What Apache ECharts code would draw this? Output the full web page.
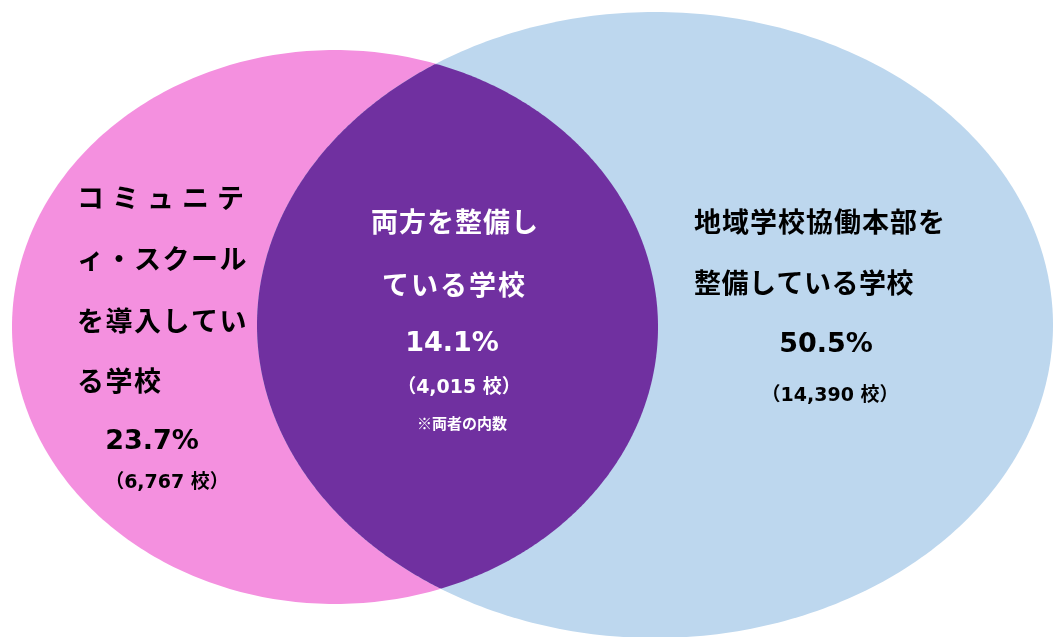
<!DOCTYPE html>
<html>
<head>
<meta charset="utf-8">
<script src="https://cdn.jsdelivr.net/npm/echarts@6/dist/echarts.min.js"></script>
<style>
html,body{margin:0;padding:0;background:#fff;}
#chart{width:1053px;height:637px;}
</style>
</head>
<body>
<div id="chart"></div>
<script>
// ---- data ----
const setNames = ['コミュニティ・スクールを導入している学校', '両方を整備している学校', '地域学校協働本部を整備している学校'];
const nameLines = [
  ['コミュニテ', 'ィ・スクール', 'を導入してい', 'る学校'],
  ['両方を整備し', 'ている学校'],
  ['地域学校協働本部を', '整備している学校']
];
const percents = [23.7, 14.1, 50.5];
const counts = [6767, 4015, 14390];
const countUnit = '校';
const overlapNote = '※両者の内数';

// ---- layout (hidden axes in pixel-like units) ----
const W = 1053, H = 637;
const ellipses = [
  { cx: 335, cy: 327, rx: 323, ry: 277, color: '#F490DF' },
  { cx: 655, cy: 325, rx: 398, ry: 313, color: '#BDD7EE' }
];
const overlapColor = '#7030A0';
const blocks = [
  { x: [77, 77, 77, 77], y: [198, 259, 321, 381], pitch: [35, 28.5, 28.5, 28.5],
    pct: [152, 442], cnt: [167, 483], color: '#000' },
  { x: [371, 382], y: [222, 285], pitch: [28, 29],
    pct: [452, 344], cnt: [459, 388], note: [462, 423], color: '#fff' },
  { x: [694, 694], y: [222, 283], pitch: [28, 27.5],
    pct: [826, 345], cnt: [830, 396], color: '#000' }
];
const jpFont = "bold 27px 'Noto Sans CJK JP', sans-serif";
const pctFont = "bold 27px 'DejaVu Sans', 'Noto Sans CJK JP', sans-serif";
const cntFont = "bold 19px 'DejaVu Sans', 'Noto Sans CJK JP', sans-serif";
const noteFont = "bold 15px 'Noto Sans CJK JP', sans-serif";

function ellipsePoints(e, api) {
  const pts = [];
  for (let k = 0; k < 360; k++) {
    const a = k * Math.PI / 180;
    pts.push(api.coord([e.cx + e.rx * Math.cos(a), e.cy + e.ry * Math.sin(a)]));
  }
  return pts;
}
function rayDist(e, px, py, dx, dy) {
  const a = (dx * dx) / (e.rx * e.rx) + (dy * dy) / (e.ry * e.ry);
  const b = 2 * ((px - e.cx) * dx / (e.rx * e.rx) + (py - e.cy) * dy / (e.ry * e.ry));
  const c = Math.pow((px - e.cx) / e.rx, 2) + Math.pow((py - e.cy) / e.ry, 2) - 1;
  return (-b + Math.sqrt(b * b - 4 * a * c)) / (2 * a);
}
function overlapPoints(api) {
  const A = ellipses[0], B = ellipses[1];
  const px = ((A.cx + A.rx) + (B.cx - B.rx)) / 2;
  const py = (A.cy + B.cy) / 2;
  const pts = [];
  for (let k = 0; k < 720; k++) {
    const a = k * Math.PI / 360;
    const dx = Math.cos(a), dy = Math.sin(a);
    const t = Math.min(rayDist(A, px, py, dx, dy), rayDist(B, px, py, dx, dy));
    pts.push(api.coord([px + t * dx, py + t * dy]));
  }
  return pts;
}

function fmtCount(n) {
  return '（' + n.toLocaleString('en-US') + ' ' + countUnit + '）';
}

const chart = echarts.init(document.getElementById('chart'), null, { renderer: 'canvas' });
chart.setOption({
  backgroundColor: '#fff',
  animation: false,
  grid: { left: 0, right: 0, top: 0, bottom: 0 },
  xAxis: { type: 'value', min: 0, max: W, show: false },
  yAxis: { type: 'value', min: 0, max: H, inverse: true, show: false },
  series: [
    {
      type: 'custom',
      name: 'sets',
      silent: true,
      data: [[0, 0]],
      renderItem: function (params, api) {
        const children = ellipses.map(e => ({
          type: 'polygon', shape: { points: ellipsePoints(e, api) }, style: { fill: e.color }
        }));
        children.push({ type: 'polygon', shape: { points: overlapPoints(api) }, style: { fill: overlapColor } });
        return { type: 'group', children: children };
      }
    },
    {
      type: 'custom',
      name: 'labels',
      silent: true,
      z: 10,
      data: setNames.map((n, i) => [i, percents[i]]),
      renderItem: function (params, api) {
        const i = params.dataIndex;
        const b = blocks[i];
        const children = [];
        nameLines[i].forEach((line, li) => {
          const chars = Array.from(line);
          chars.forEach((ch, ci) => {
            const p = api.coord([b.x[li] + ci * b.pitch[li], b.y[li]]);
            children.push({ type: 'text', x: p[0], y: p[1],
              style: { text: ch, fill: b.color, font: jpFont, align: 'left', verticalAlign: 'middle' } });
          });
        });
        const pp = api.coord(b.pct);
        children.push({ type: 'text', x: pp[0], y: pp[1],
          style: { text: percents[i].toFixed(1) + '%', fill: b.color, font: pctFont, align: 'center', verticalAlign: 'middle' } });
        const cp = api.coord(b.cnt);
        children.push({ type: 'text', x: cp[0], y: cp[1],
          style: { text: fmtCount(counts[i]), fill: b.color, font: cntFont, align: 'center', verticalAlign: 'middle' } });
        if (b.note) {
          const np = api.coord(b.note);
          children.push({ type: 'text', x: np[0], y: np[1],
            style: { text: overlapNote, fill: b.color, font: noteFont, align: 'center', verticalAlign: 'middle' } });
        }
        return { type: 'group', children: children };
      }
    }
  ]
});
</script>
</body>
</html>
